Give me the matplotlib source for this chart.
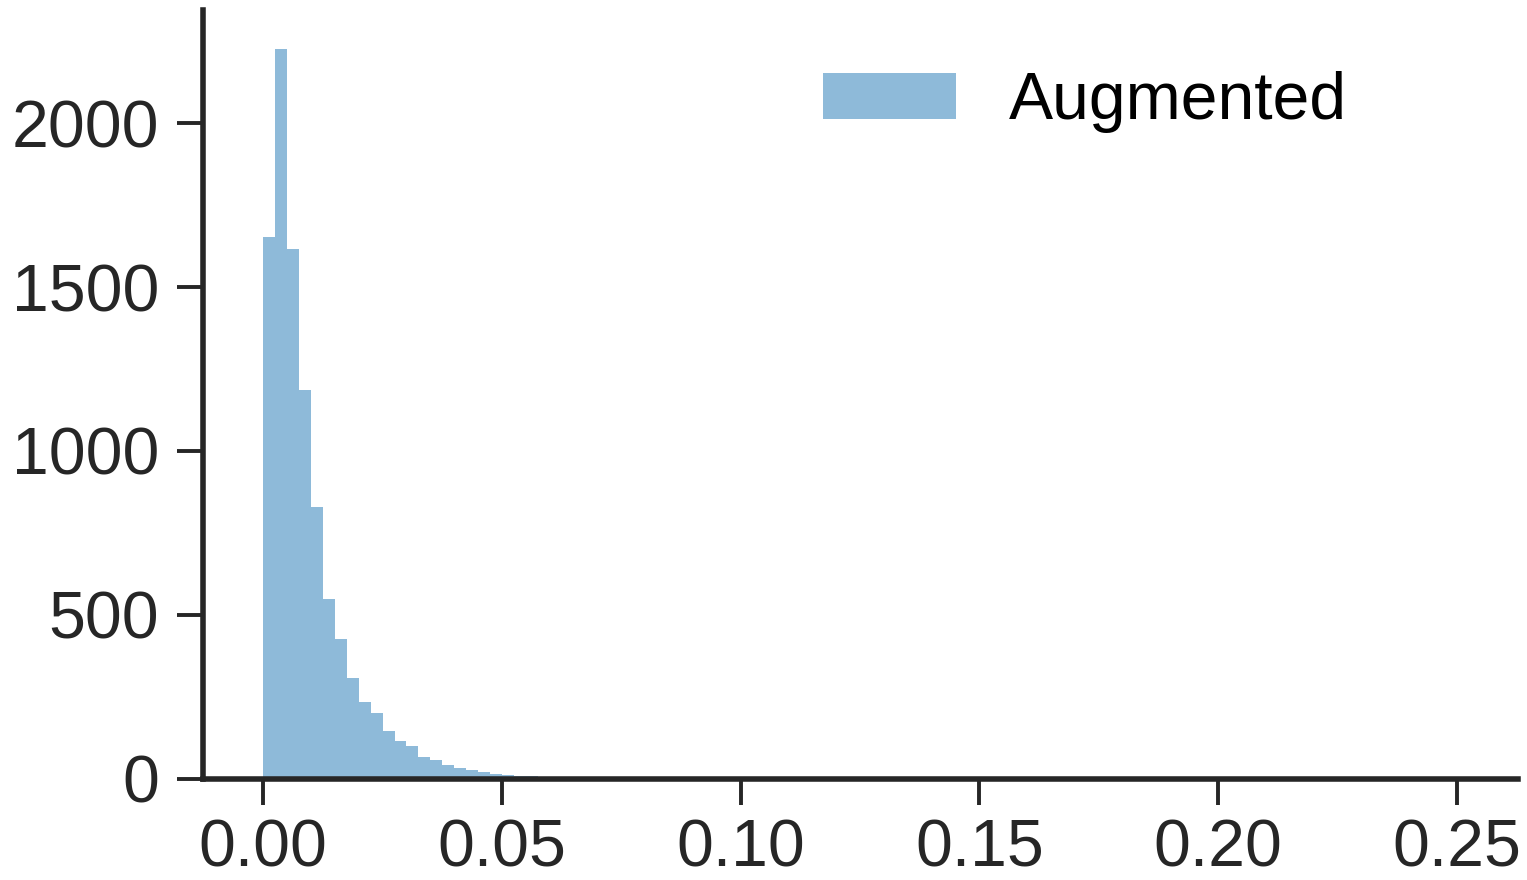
import matplotlib
matplotlib.use('Agg')
import matplotlib.pyplot as plt
import numpy as np

# Histogram: bin width 0.0025 starting at 0
bin_width = 0.0025
counts = [1652, 2225, 1616, 1186, 828, 548, 426, 307, 236, 200,
          146, 115, 101, 67, 57, 43, 33, 26, 21, 16,
          12, 10, 9, 5, 4, 3, 5, 4, 2, 1]
x_ticks = [0.00, 0.05, 0.10, 0.15, 0.20, 0.25]
y_ticks = [0, 500, 1000, 1500, 2000]
label = 'Augmented'

plt.rcParams['font.family'] = ['Liberation Sans', 'DejaVu Sans']
dark = '#262626'

fig = plt.figure(figsize=(7.635, 4.4), dpi=200)
ax = fig.add_axes([0.133, 0.1148, 0.861, 0.874])

edges = np.arange(len(counts) + 1) * bin_width
ax.hist(edges[:-1], bins=edges, weights=counts, color='#1f77b4',
        alpha=0.5, label=label)

ax.set_xlim(-0.0126, 0.2628)
ax.set_ylim(0, 2345)
ax.set_xticks(x_ticks)
ax.set_xticklabels([f'{v:.2f}' for v in x_ticks])
ax.set_yticks(y_ticks)

for side in ['top', 'right']:
    ax.spines[side].set_visible(False)
for side in ['left', 'bottom']:
    ax.spines[side].set_linewidth(2.0)
    ax.spines[side].set_color(dark)

ax.tick_params(axis='both', length=9.5, width=1.4, color=dark,
               labelsize=23.8, labelcolor=dark)
ax.tick_params(axis='y', pad=6.3)
ax.tick_params(axis='x', pad=4.8)

# legend placed by hand to sit where the reference has it
ax.legend(loc='upper right', bbox_to_anchor=(0.915, 0.998), frameon=False,
          fontsize=23.8)

plt.savefig('out.png', dpi=200)
plt.close()
